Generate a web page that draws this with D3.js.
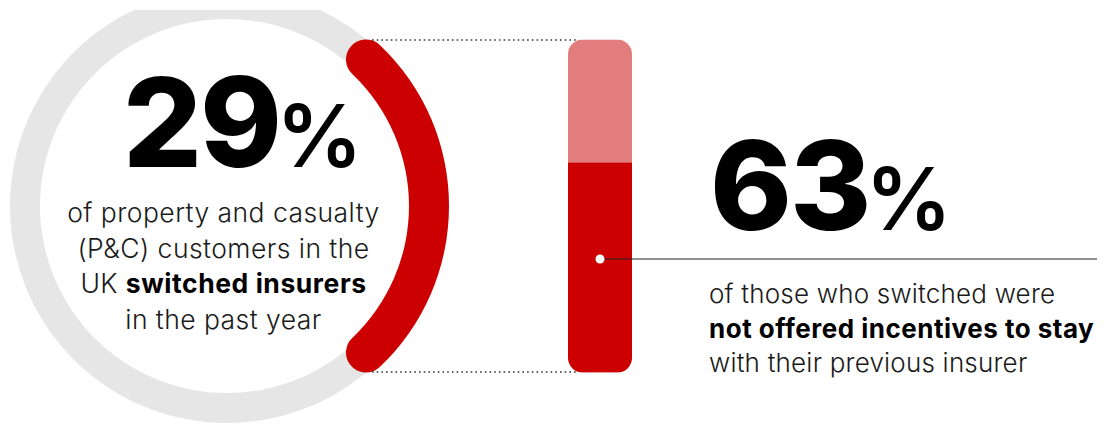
<!DOCTYPE html>
<html>
<head>
<meta charset="utf-8">
<script src="https://cdn.jsdelivr.net/npm/d3@7"></script>
<style>
  html, body { margin: 0; padding: 0; background: #fff; }
  svg { display: block; }
  text { font-family: Inter, "Noto Sans", sans-serif; }
</style>
</head>
<body>
<svg id="chart" width="1104" height="427"></svg>
<script>
// ---------- data ----------
const switchedShare = [29];          // % of P&C customers who switched
const notOfferedShare = [63];        // % of switchers not offered incentives
const headline1 = ["29", "%"];
const headline2 = ["63", "%"];
const leftLines = [
  [{t: "of property and casualty", b: false}],
  [{t: "(P&C) customers in the", b: false}],
  [{t: "UK ", b: false}, {t: "switched insurers", b: true}],
  [{t: "in the past year", b: false}]
];
const rightLines = [
  [{t: "of those who switched were", b: false}],
  [{t: "not offered incentives to stay", b: true}],
  [{t: "with their previous insurer", b: false}]
];

// ---------- layout ----------
const W = 1104, H = 427;
const svg = d3.select("#chart");
const RED = "#cc0000", LIGHTRED = "#e37c7c", GRAY = "#e6e6e6";

const cx = 227, cy = 206, r = 202;
const grayHalf = 15, redHalf = 20;

svg.append("defs").append("clipPath").attr("id", "topclip")
  .append("rect").attr("x", 0).attr("y", 10).attr("width", W).attr("height", H - 10);

// gray full ring
svg.append("g").attr("clip-path", "url(#topclip)")
  .append("path")
  .attr("transform", `translate(${cx},${cy})`)
  .attr("d", d3.arc()({innerRadius: r - grayHalf, outerRadius: r + grayHalf, startAngle: 0, endAngle: 2 * Math.PI}))
  .attr("fill", GRAY);

// red arc (centered on the right side), round ends
const angle = d3.scaleLinear().domain([0, 100]).range([0, 2 * Math.PI]);
const span = angle(switchedShare[0]);
const a0 = Math.PI / 2 - span / 2, a1 = Math.PI / 2 + span / 2;
svg.append("path")
  .attr("transform", `translate(${cx},${cy})`)
  .attr("d", d3.arc().cornerRadius(redHalf)({innerRadius: r - redHalf, outerRadius: r + redHalf, startAngle: a0, endAngle: a1}))
  .attr("fill", RED);

// cap geometry for connectors
const capA = a0 + Math.asin(redHalf / r);
const capX = cx + r * Math.sin(capA);
const capTop = cy - r * Math.cos(capA) - redHalf;
const capBottom = cy + r * Math.cos(capA) + redHalf;

// ---------- bar ----------
const barX = 568, barW = 64, barR = 15;
const y = d3.scaleLinear().domain([0, 100]).range([capBottom, capTop]);

svg.append("clipPath").attr("id", "barclip")
  .append("rect").attr("x", barX).attr("y", y(100)).attr("width", barW)
  .attr("height", y(0) - y(100)).attr("rx", barR).attr("ry", barR);

const bar = svg.append("g").attr("clip-path", "url(#barclip)");
bar.append("rect").attr("x", barX).attr("y", y(100)).attr("width", barW)
  .attr("height", y(0) - y(100)).attr("fill", LIGHTRED);
bar.selectAll("rect.val").data(notOfferedShare).join("rect").attr("class", "val")
  .attr("x", barX).attr("y", d => y(d)).attr("width", barW)
  .attr("height", d => y(0) - y(d)).attr("fill", RED);

// dotted connectors
[capTop + 0.5, capBottom - 0.5].forEach(yy => {
  svg.append("line")
    .attr("x1", capX + 6).attr("x2", barX + 10)
    .attr("y1", yy).attr("y2", yy)
    .attr("stroke", "#333").attr("stroke-width", 1.4)
    .attr("stroke-dasharray", "1.6 3.1");
});

// leader line with dot
const leadY = 259;
svg.append("line").attr("x1", barX + barW / 2).attr("x2", 1097)
  .attr("y1", leadY).attr("y2", leadY).attr("stroke", "#222").attr("stroke-width", 1.2);
svg.append("circle").attr("cx", barX + barW / 2).attr("cy", leadY).attr("r", 4.5).attr("fill", "#fff");

// ---------- text ----------
function headline(x, yb, parts) {
  const t = svg.append("text").attr("x", x).attr("y", yb).attr("fill", "#000");
  t.append("tspan").attr("font-size", 124).attr("font-weight", 800)
    .attr("letter-spacing", -2).text(parts[0]);
  t.append("tspan").attr("font-size", 86).attr("font-weight", 600).attr("dx", -4).text(parts[1]);
  return t;
}
headline(123, 167, headline1);
headline(710, 230, headline2);

function lines(data, x, y0, lh, anchor, fs, lsReg, lsBold) {
  data.forEach((segs, i) => {
    const t = svg.append("text").attr("x", x).attr("y", y0 + i * lh)
      .attr("text-anchor", anchor).attr("font-size", fs).attr("fill", "#1a1a1a");
    segs.forEach(s => t.append("tspan")
      .attr("font-weight", s.b ? 700 : 300)
      .attr("letter-spacing", s.b ? lsBold : lsReg)
      .attr("fill", s.b ? "#000" : "#1a1a1a")
      .text(s.t));
  });
}
lines(leftLines, 223.5, 222, 35.5, "middle", 26.5, 0.45, 0.55);
lines(rightLines, 709, 303, 34.5, "start", 26, 0.2, 0.5);
</script>
</body>
</html>
